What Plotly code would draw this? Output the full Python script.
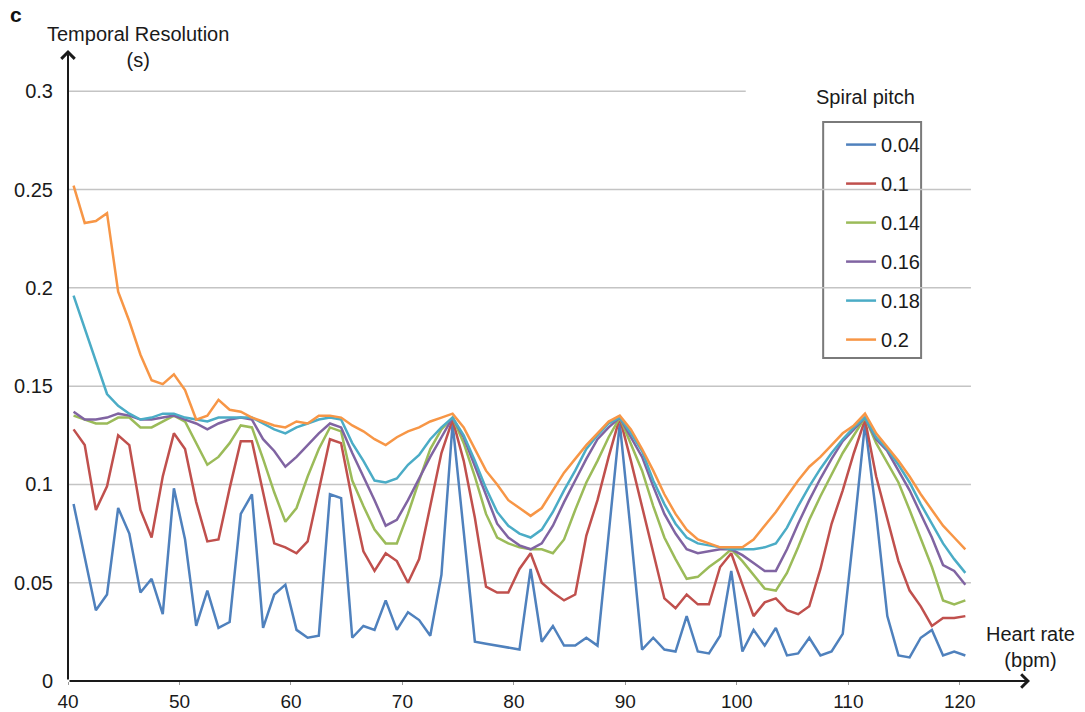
import plotly.graph_objects as go

heart_rate = [40.5, 41.5, 42.5, 43.5, 44.5, 45.5, 46.5, 47.5, 48.5, 49.5,
              50.5, 51.5, 52.5, 53.5, 54.5, 55.5, 56.5, 57.5, 58.5, 59.5,
              60.5, 61.5, 62.5, 63.5, 64.5, 65.5, 66.5, 67.5, 68.5, 69.5,
              70.5, 71.5, 72.5, 73.5, 74.5, 75.5, 76.5, 77.5, 78.5, 79.5,
              80.5, 81.5, 82.5, 83.5, 84.5, 85.5, 86.5, 87.5, 88.5, 89.5,
              90.5, 91.5, 92.5, 93.5, 94.5, 95.5, 96.5, 97.5, 98.5, 99.5,
              100.5, 101.5, 102.5, 103.5, 104.5, 105.5, 106.5, 107.5, 108.5, 109.5,
              110.5, 111.5, 112.5, 113.5, 114.5, 115.5, 116.5, 117.5, 118.5, 119.5,
              120.5]

pitch_004 = [0.090, 0.063, 0.036, 0.044, 0.088, 0.075, 0.045, 0.052, 0.034, 0.098,
             0.072, 0.028, 0.046, 0.027, 0.030, 0.085, 0.095, 0.027, 0.044, 0.049,
             0.026, 0.022, 0.023, 0.095, 0.093, 0.022, 0.028, 0.026, 0.041, 0.026,
             0.035, 0.031, 0.023, 0.054, 0.131, 0.076, 0.020, 0.019, 0.018, 0.017,
             0.016, 0.057, 0.020, 0.028, 0.018, 0.018, 0.022, 0.018, 0.075, 0.131,
             0.075, 0.016, 0.022, 0.016, 0.015, 0.033, 0.015, 0.014, 0.023, 0.056,
             0.015, 0.026, 0.018, 0.027, 0.013, 0.014, 0.022, 0.013, 0.015, 0.024,
             0.076, 0.131, 0.085, 0.033, 0.013, 0.012, 0.022, 0.026, 0.013, 0.015,
             0.013]

pitch_010 = [0.128, 0.120, 0.087, 0.099, 0.125, 0.120, 0.087, 0.073, 0.104, 0.126,
             0.118, 0.091, 0.071, 0.072, 0.098, 0.122, 0.122, 0.096, 0.070, 0.068,
             0.065, 0.071, 0.097, 0.123, 0.121, 0.092, 0.066, 0.056, 0.065, 0.061,
             0.050, 0.062, 0.089, 0.116, 0.133, 0.112, 0.083, 0.048, 0.045, 0.045,
             0.057, 0.065, 0.050, 0.045, 0.041, 0.044, 0.074, 0.092, 0.114, 0.134,
             0.112, 0.089, 0.066, 0.042, 0.037, 0.044, 0.039, 0.039, 0.058, 0.065,
             0.049, 0.033, 0.040, 0.042, 0.036, 0.034, 0.038, 0.057, 0.080, 0.097,
             0.116, 0.133, 0.104, 0.082, 0.061, 0.046, 0.038, 0.028, 0.032, 0.032,
             0.033]

pitch_014 = [0.135, 0.133, 0.131, 0.131, 0.134, 0.134, 0.129, 0.129, 0.132, 0.135,
             0.132, 0.121, 0.110, 0.114, 0.121, 0.130, 0.129, 0.113, 0.096, 0.081,
             0.088, 0.104, 0.118, 0.129, 0.127, 0.102, 0.089, 0.077, 0.070, 0.070,
             0.085, 0.102, 0.118, 0.128, 0.134, 0.121, 0.104, 0.085, 0.073, 0.070,
             0.068, 0.067, 0.067, 0.065, 0.072, 0.087, 0.101, 0.112, 0.124, 0.134,
             0.120, 0.107, 0.089, 0.073, 0.062, 0.052, 0.053, 0.058, 0.062, 0.067,
             0.061, 0.054, 0.047, 0.046, 0.055, 0.068, 0.082, 0.094, 0.105, 0.116,
             0.125, 0.134, 0.121, 0.111, 0.101, 0.087, 0.072, 0.058, 0.041, 0.039,
             0.041]

pitch_016 = [0.137, 0.133, 0.133, 0.134, 0.136, 0.135, 0.133, 0.133, 0.134, 0.135,
             0.133, 0.131, 0.128, 0.131, 0.133, 0.134, 0.133, 0.123, 0.117, 0.109,
             0.114, 0.120, 0.126, 0.131, 0.129, 0.116, 0.104, 0.092, 0.079, 0.082,
             0.092, 0.103, 0.114, 0.124, 0.134, 0.124, 0.109, 0.094, 0.080, 0.073,
             0.069, 0.067, 0.070, 0.079, 0.091, 0.102, 0.113, 0.123, 0.129, 0.134,
             0.124, 0.114, 0.099, 0.085, 0.075, 0.067, 0.065, 0.066, 0.067, 0.067,
             0.064, 0.060, 0.056, 0.056, 0.067, 0.080, 0.092, 0.103, 0.113, 0.122,
             0.128, 0.134, 0.123, 0.117, 0.107, 0.097, 0.085, 0.073, 0.059, 0.056,
             0.049]

pitch_018 = [0.196, 0.179, 0.163, 0.146, 0.140, 0.136, 0.133, 0.134, 0.136, 0.136,
             0.134, 0.133, 0.132, 0.134, 0.134, 0.134, 0.134, 0.131, 0.128, 0.126,
             0.129, 0.131, 0.133, 0.134, 0.133, 0.121, 0.112, 0.102, 0.101, 0.103,
             0.110, 0.115, 0.123, 0.129, 0.134, 0.125, 0.112, 0.098, 0.086, 0.079,
             0.075, 0.073, 0.077, 0.086, 0.097, 0.107, 0.118, 0.125, 0.131, 0.134,
             0.126, 0.117, 0.102, 0.090, 0.080, 0.073, 0.070, 0.069, 0.068, 0.067,
             0.067, 0.067, 0.068, 0.070, 0.078, 0.089, 0.099, 0.108, 0.116, 0.123,
             0.129, 0.134, 0.124, 0.118, 0.110, 0.101, 0.090, 0.080, 0.070, 0.062,
             0.055]

pitch_020 = [0.252, 0.233, 0.234, 0.238, 0.198, 0.183, 0.166, 0.153, 0.151, 0.156,
             0.148, 0.133, 0.135, 0.143, 0.138, 0.137, 0.134, 0.132, 0.130, 0.129,
             0.132, 0.131, 0.135, 0.135, 0.134, 0.130, 0.127, 0.123, 0.120, 0.124,
             0.127, 0.129, 0.132, 0.134, 0.136, 0.129, 0.118, 0.107, 0.100, 0.092,
             0.088, 0.084, 0.088, 0.097, 0.106, 0.113, 0.120, 0.126, 0.132, 0.135,
             0.128, 0.118, 0.107, 0.095, 0.085, 0.077, 0.072, 0.070, 0.068, 0.068,
             0.068, 0.072, 0.079, 0.086, 0.094, 0.102, 0.109, 0.114, 0.120, 0.126,
             0.130, 0.136, 0.126, 0.119, 0.112, 0.104, 0.095, 0.087, 0.079, 0.073,
             0.067]

series_names = ["0.04", "0.1", "0.14", "0.16", "0.18", "0.2"]
series_values = [pitch_004, pitch_010, pitch_014, pitch_016, pitch_018, pitch_020]
series_colors = ["#4F81BD", "#C0504D", "#9BBB59", "#8064A2", "#4BACC6", "#F79646"]

x_ticks = [40, 50, 60, 70, 80, 90, 100, 110, 120]
y_ticks = [0, 0.05, 0.1, 0.15, 0.2, 0.25, 0.3]
y_tick_labels = ["0", "0.05", "0.1", "0.15", "0.2", "0.25", "0.3"]
grid_values = [0.05, 0.1, 0.15, 0.2, 0.25]
top_grid_value = 0.3

FONT = "Liberation Sans, Arial, sans-serif"
X_MIN, X_MAX = 40, 126.3
Y_MIN, Y_MAX = 0, 0.321

fig = go.Figure()
for name, vals, col in zip(series_names, series_values, series_colors):
    fig.add_trace(go.Scatter(x=heart_rate, y=vals, mode="lines", name=name,
                             legendgroup=name,
                             line=dict(color=col, width=2.5)))

shapes = []
for g in grid_values:
    shapes.append(dict(type="line", xref="x", yref="y", x0=40, x1=121, y0=g, y1=g,
                       line=dict(color="#c4c4c4", width=1.5), layer="below"))
shapes.append(dict(type="line", xref="x", yref="y", x0=40, x1=100.8,
                   y0=top_grid_value, y1=top_grid_value,
                   line=dict(color="#c4c4c4", width=1.5), layer="below"))
# small tick at the origin, left of the y axis
shapes.append(dict(type="line", xref="x", yref="y", x0=39.5, x1=40, y0=0, y1=0,
                   line=dict(color="#1a1a1a", width=2), layer="above"))
# legend box
shapes.append(dict(type="rect", xref="paper", yref="paper",
                   x0=0.785, x1=0.8868, y0=0.5119, y1=0.8859,
                   line=dict(color="#7a7a7a", width=2), fillcolor="white", layer="below"))

annotations = [
    dict(x=X_MAX, y=0, ax=X_MIN, ay=0, xref="x", yref="y", axref="x", ayref="y",
         showarrow=True, arrowhead=4, arrowsize=1.3, arrowwidth=2, arrowcolor="#1a1a1a", text=""),
    dict(x=X_MIN, y=Y_MAX, ax=X_MIN, ay=Y_MIN, xref="x", yref="y", axref="x", ayref="y",
         showarrow=True, arrowhead=4, arrowsize=1.3, arrowwidth=2, arrowcolor="#1a1a1a", text=""),
    dict(text="<b>c</b>", x=-0.0545, y=1.0555, xref="paper", yref="paper",
         showarrow=False, font=dict(size=21, color="#111", family=FONT),
         xanchor="center", yanchor="middle"),
    dict(text="Temporal Resolution<br>(s)", x=0.0727, y=1.0055, xref="paper", yref="paper",
         showarrow=False, font=dict(size=20, color="#1a1a1a", family=FONT),
         xanchor="center", yanchor="middle", align="center"),
    dict(text="Heart rate<br>(bpm)", x=1.001, y=0.0539, xref="paper", yref="paper",
         showarrow=False, font=dict(size=20, color="#1a1a1a", family=FONT),
         xanchor="center", yanchor="middle", align="center"),
    dict(text="Spiral pitch", x=0.8286, y=0.9255, xref="paper", yref="paper",
         showarrow=False, font=dict(size=20, color="#1a1a1a", family=FONT),
         xanchor="center", yanchor="middle"),
]

fig.update_layout(
    width=1085, height=712,
    margin=dict(l=67.5, r=55, t=50, b=31, pad=0, autoexpand=False),
    paper_bgcolor="white", plot_bgcolor="white",
    font=dict(family=FONT, color="#1a1a1a"),
    shapes=shapes, annotations=annotations,
    showlegend=True,
    legend=dict(x=0.8036, y=0.881, xanchor="left", yanchor="top",
                bgcolor="rgba(0,0,0,0)", borderwidth=0,
                font=dict(size=20, family=FONT, color="#1a1a1a"),
                tracegroupgap=10, traceorder="grouped"),
    xaxis=dict(range=[X_MIN, X_MAX], tickvals=x_ticks, showgrid=False, zeroline=False,
               showline=False, ticks="outside", ticklen=3, tickcolor="#999",
               automargin=False,
               tickfont=dict(size=19, family=FONT, color="#1a1a1a")),
    yaxis=dict(range=[Y_MIN, Y_MAX], tickvals=y_ticks, ticktext=y_tick_labels,
               showgrid=False, zeroline=False, showline=False, ticks="",
               ticklabelstandoff=14, automargin=False,
               tickfont=dict(size=20, family=FONT, color="#1a1a1a")),
)

fig.write_html("out.html",
               config={"displayModeBar": False},
               post_script="document.body.style.margin='0';document.body.style.overflow='hidden';")
